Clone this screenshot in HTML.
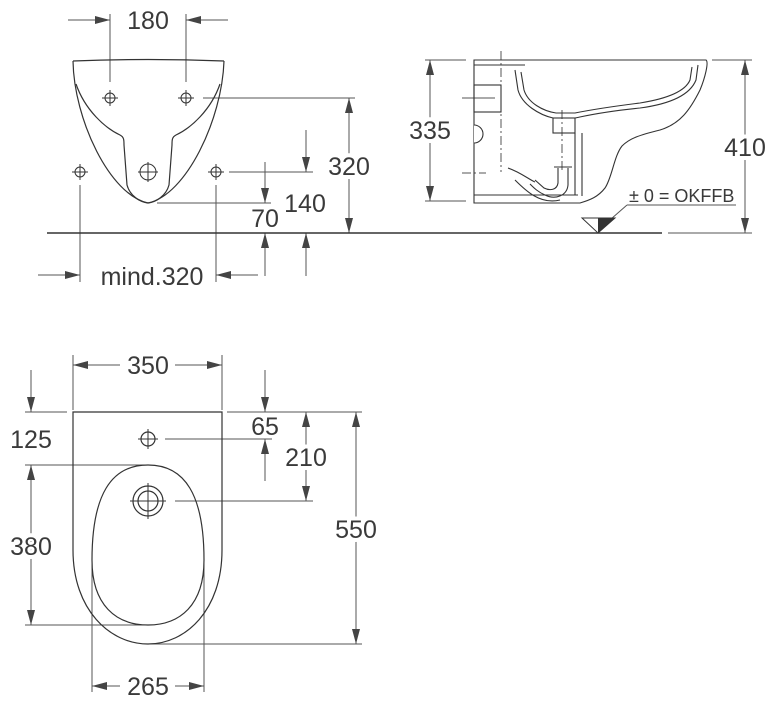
<!DOCTYPE html>
<html><head><meta charset="utf-8">
<style>
html,body{margin:0;padding:0;background:#fff;}
svg{display:block;}
text{font-family:"Liberation Sans",sans-serif;font-size:25px;fill:#3a3a3a;}
</style></head>
<body>
<svg width="777" height="705" viewBox="0 0 777 705" xmlns="http://www.w3.org/2000/svg">
<defs>
<marker id="a" markerUnits="userSpaceOnUse" markerWidth="16" markerHeight="10" refX="15" refY="5" orient="auto-start-reverse">
<path d="M0,1 L15,5 L0,9 Z" fill="#444"/>
</marker>
</defs>
<g stroke="#555" stroke-width="1" fill="none">
<line x1="110" y1="14" x2="110" y2="82"/>
<line x1="186" y1="14" x2="186" y2="82"/>
<line x1="68" y1="20" x2="110" y2="20" marker-end="url(#a)"/>
<line x1="228" y1="20" x2="186" y2="20" marker-end="url(#a)"/>
<line x1="203" y1="98" x2="355" y2="98"/>
<line x1="349" y1="98" x2="349" y2="233" marker-start="url(#a)" marker-end="url(#a)"/>
<line x1="229" y1="172" x2="313" y2="172"/>
<line x1="306" y1="130" x2="306" y2="172" marker-end="url(#a)"/>
<line x1="306" y1="276" x2="306" y2="233" marker-end="url(#a)"/>
<line x1="157" y1="203" x2="271" y2="203"/>
<line x1="265" y1="162" x2="265" y2="203" marker-end="url(#a)"/>
<line x1="265" y1="276" x2="265" y2="233" marker-end="url(#a)"/>
<line x1="80" y1="185" x2="80" y2="282"/>
<line x1="216" y1="185" x2="216" y2="282"/>
<line x1="38" y1="275" x2="80" y2="275" marker-end="url(#a)"/>
<line x1="258" y1="275" x2="216" y2="275" marker-end="url(#a)"/>
</g>
<line x1="47" y1="233" x2="662" y2="233" stroke="#333" stroke-width="1.6"/>
<g stroke="#333" stroke-width="1.2" fill="none">
<path d="M73,61 Q148,58 224,61"/>
<path d="M73,61 C74,120 110,195 148,203 C186,195 222,120 224,61"/>
<path d="M76,84 C85,110 105,128 120,135 C124,137 124,140 124,145 L127,185 C130,196 140,202 148,203 C156,202 166,196 169,185 L172,145 C172,140 172,137 176,135 C191,128 211,110 220,84"/>
</g>
<g stroke="#333" stroke-width="1" fill="none">
<circle cx="110" cy="98" r="5"/><line x1="102" y1="98" x2="118" y2="98"/><line x1="110" y1="90" x2="110" y2="106"/>
<circle cx="186" cy="98" r="5"/><line x1="178" y1="98" x2="194" y2="98"/><line x1="186" y1="90" x2="186" y2="106"/>
<circle cx="80" cy="172" r="5"/><line x1="72" y1="172" x2="88" y2="172"/><line x1="80" y1="164" x2="80" y2="180"/>
<circle cx="216" cy="172" r="5"/><line x1="208" y1="172" x2="224" y2="172"/><line x1="216" y1="164" x2="216" y2="180"/>
<circle cx="148" cy="172" r="8"/><line x1="138" y1="172" x2="158" y2="172"/><line x1="148" y1="162" x2="148" y2="182"/>
</g>
<text x="148" y="29" text-anchor="middle">180</text>
<text x="349" y="175" text-anchor="middle" stroke="#fff" stroke-width="8" paint-order="stroke">320</text>
<text x="305" y="212" text-anchor="middle">140</text>
<text x="265" y="227" text-anchor="middle">70</text>
<text x="152" y="285" text-anchor="middle">mind.320</text>

<g stroke="#555" stroke-width="1" fill="none">
<line x1="425" y1="60" x2="466" y2="60"/>
<line x1="425" y1="201" x2="466" y2="201"/>
<line x1="430" y1="60" x2="430" y2="201" marker-start="url(#a)" marker-end="url(#a)"/>
<line x1="712" y1="60" x2="752" y2="60"/>
<line x1="668" y1="233" x2="752" y2="233"/>
<line x1="745" y1="60" x2="745" y2="233" marker-start="url(#a)" marker-end="url(#a)"/>
<line x1="627" y1="205" x2="736" y2="205"/>
<line x1="627" y1="205" x2="603" y2="226"/>
<line x1="501" y1="51" x2="501" y2="172" stroke-dasharray="9,3,2,3"/>
<line x1="562" y1="110" x2="562" y2="172" stroke-dasharray="9,3,2,3"/>
<line x1="462" y1="98" x2="495" y2="98"/>
<line x1="462" y1="173" x2="486" y2="173" stroke-dasharray="9,3,2,3"/>
</g>
<path d="M582,218 L615,218 L598,233 Z" fill="#fff" stroke="#333" stroke-width="1"/>
<path d="M598,218 L615,218 L598,233 Z" fill="#333"/>
<g stroke="#333" stroke-width="1.1" fill="none">
<path d="M474,60 L706,60 C709,62 705,78 700,90 C690,110 680,124 660,130 C640,135 630,138 622,146 C614,156 612,178 605,188 C598,197 590,200 580,203 L474,203 Z"/>
<line x1="474" y1="195" x2="578" y2="195"/>
<rect x="474" y="85" width="27" height="27"/>
<path d="M474,125 A9,9 0 0 1 474,143" fill="#fff"/>
<line x1="474" y1="65" x2="525" y2="65"/>
<path d="M515,70 L518,90 C522,105 540,115 553,118 L575,118 C585,116 600,112 640,108 C670,104 690,95 696,80 L698,65"/>
<path d="M521,72 L524,90 C528,103 543,111 556,113 L575,113 C585,111 600,108 640,103 C665,99 685,92 690,80 L692,67"/>
<rect x="553" y="118" width="22" height="15"/>
<line x1="575" y1="133" x2="575" y2="195"/>
<line x1="582" y1="133" x2="582" y2="196"/>
<path d="M568,168 L568,185 C567,196 555,200 545,195 C538,192 534,188 530,184"/>
<path d="M558,168 L558,183 C557,190 550,191 544,188 L535,180"/>
<line x1="554" y1="167" x2="572" y2="167"/>
<path d="M508,168 C520,172 530,180 535,182"/>
<path d="M515,180 C525,190 540,205 560,200"/>
</g>
<text x="430" y="139" text-anchor="middle" stroke="#fff" stroke-width="8" paint-order="stroke">335</text>
<text x="745" y="156" text-anchor="middle" stroke="#fff" stroke-width="8" paint-order="stroke">410</text>
<text x="629" y="202" style="font-size:18px">± 0 = OKFFB</text>

<g stroke="#555" stroke-width="1" fill="none">
<line x1="73" y1="355" x2="73" y2="410"/>
<line x1="222" y1="355" x2="222" y2="410"/>
<line x1="120" y1="365" x2="73" y2="365" marker-end="url(#a)"/>
<line x1="175" y1="365" x2="222" y2="365" marker-end="url(#a)"/>
<line x1="25" y1="412" x2="67" y2="412"/>
<line x1="31" y1="370" x2="31" y2="412" marker-end="url(#a)"/>
<line x1="25" y1="465" x2="148" y2="465"/>
<line x1="25" y1="625" x2="148" y2="625"/>
<line x1="31" y1="465" x2="31" y2="625" marker-start="url(#a)" marker-end="url(#a)"/>
<line x1="227" y1="412" x2="362" y2="412"/>
<line x1="265" y1="370" x2="265" y2="412" marker-end="url(#a)"/>
<line x1="165" y1="439" x2="272" y2="439"/>
<line x1="265" y1="481" x2="265" y2="439" marker-end="url(#a)"/>
<line x1="175" y1="501" x2="313" y2="501"/>
<line x1="306" y1="412" x2="306" y2="501" marker-start="url(#a)" marker-end="url(#a)"/>
<line x1="148" y1="644" x2="362" y2="644"/>
<line x1="356" y1="412" x2="356" y2="644" marker-start="url(#a)" marker-end="url(#a)"/>
<line x1="92" y1="552" x2="92" y2="692"/>
<line x1="204" y1="552" x2="204" y2="692"/>
<line x1="120" y1="686" x2="92" y2="686" marker-end="url(#a)"/>
<line x1="175" y1="686" x2="204" y2="686" marker-end="url(#a)"/>
</g>
<g stroke="#333" stroke-width="1.2" fill="none">
<path d="M73,412 L222,412 L222,550 C222,610 186,644 148,644 C110,644 73,610 73,550 Z"/>
<path d="M148,465 C185,465 204,495 204,560 C204,605 180,625 148,625 C116,625 92,605 92,560 C92,495 111,465 148,465 Z"/>
<circle cx="148" cy="439" r="7"/>
<line x1="138" y1="439" x2="158" y2="439" stroke-width="1"/><line x1="148" y1="429" x2="148" y2="449" stroke-width="1"/>
<circle cx="148" cy="501" r="15"/><circle cx="148" cy="501" r="10"/>
<line x1="130" y1="501" x2="166" y2="501" stroke-width="1"/><line x1="148" y1="483" x2="148" y2="519" stroke-width="1"/>
</g>
<text x="148" y="374" text-anchor="middle">350</text>
<text x="31" y="448" text-anchor="middle">125</text>
<text x="31" y="555" text-anchor="middle" stroke="#fff" stroke-width="8" paint-order="stroke">380</text>
<text x="265" y="435" text-anchor="middle">65</text>
<text x="306" y="466" text-anchor="middle" stroke="#fff" stroke-width="8" paint-order="stroke">210</text>
<text x="356" y="538" text-anchor="middle" stroke="#fff" stroke-width="8" paint-order="stroke">550</text>
<text x="148" y="695" text-anchor="middle">265</text>
</svg>
</body></html>
